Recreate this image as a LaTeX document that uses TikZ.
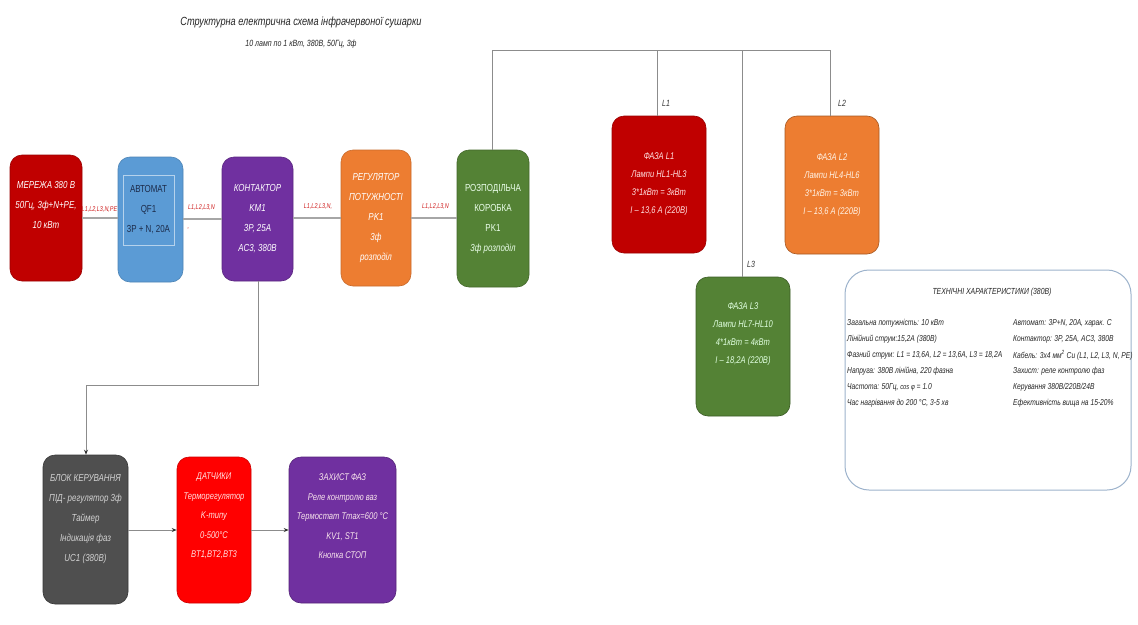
\documentclass[tikz,border=0pt]{standalone}
\usepackage{fontspec}
\setmainfont{Liberation Sans}[FakeStretch=0.78]
\usetikzlibrary{arrows.meta}
\definecolor{cred}{HTML}{C00000}
\definecolor{cblue}{HTML}{5B9BD5}
\definecolor{cpurple}{HTML}{7030A0}
\definecolor{corange}{HTML}{ED7D31}
\definecolor{cgreen}{HTML}{548235}
\definecolor{cgray}{HTML}{4F4F4F}
\definecolor{cbright}{HTML}{FF0000}
\definecolor{cline}{HTML}{A6A6A6}
\definecolor{ctree}{HTML}{8C8C8C}
\definecolor{clabel}{HTML}{D02020}
\definecolor{cframe}{HTML}{9DB3CC}
\definecolor{cnavy}{HTML}{1C2B4A}
\begin{document}
\begin{tikzpicture}[x=1pt,y=-1pt,
  box/.style={rounded corners=12pt, inner sep=0pt, align=center, line width=0.6pt, text=white},
  f20/.style={font=\fontsize{10.2}{20}\selectfont\itshape},
  f18/.style={font=\fontsize{9.7}{18}\selectfont\itshape},
  f19/.style={font=\fontsize{9.7}{19.5}\selectfont\itshape},
  wire/.style={draw=cline, line width=1.1pt},
  tree/.style={draw=ctree, line width=0.7pt},
  arr/.style={draw=ctree, line width=0.8pt, -{Stealth[length=5pt,width=4pt,black!80]}},
  lbl/.style={text=clabel, font=\fontsize{7}{8}\selectfont\itshape, inner sep=0pt, align=center},
  tech/.style={font=\fontsize{8.6}{10}\selectfont\itshape, text=black!85, inner sep=0pt, anchor=west}
]
\useasboundingbox[fill=white] (0,0) rectangle (1138,624);

% title
\node[font=\fontsize{11.8}{14}\selectfont\itshape, text=black!85] (title) at (301,22) {Структурна електрична схема інфрачервоної сушарки};
\node[font=\fontsize{9}{11}\selectfont\itshape, text=black!85] (subtitle) at (301,44) {10 ламп по 1 кВт, 380В, 50Гц, 3ф};

% main chain
\node[box, f20, fill=cred, draw=cred!80!black, minimum width=72pt, minimum height=126pt] (mer) at (46,218)
  {МЕРЕЖА 380 В\\50Гц, 3ф+N+PE,\\10 кВт\\[6pt]};
\node[box, fill=cblue, draw=cblue!85!black, minimum width=65pt, minimum height=125pt] (avt) at (150.5,219.5) {};
\node[draw=cblue!45!white, line width=0.8pt, fill=cblue, inner sep=0pt, minimum width=51pt, minimum height=70pt,
  align=center, text=cnavy, font=\fontsize{10.2}{20}\selectfont] (avtin) at (148.5,210) {АВТОМАТ\\QF1\\3P + N, 20А};
\node[box, f20, fill=cpurple, draw=cpurple!80!black, minimum width=71pt, minimum height=124pt] (kont) at (257.5,219)
  {КОНТАКТОР\\KM1\\3P, 25A\\AC3, 380В};
\node[box, f20, fill=corange, draw=corange!85!black, minimum width=70pt, minimum height=136pt] (reg) at (376,218)
  {РЕГУЛЯТОР\\ПОТУЖНОСТІ\\PK1\\3ф\\розподіл};
\node[box, fill=cgreen, draw=cgreen!80!black, minimum width=72pt, minimum height=137pt,
  font=\fontsize{10.2}{20}\selectfont, text=white!92!green] (roz) at (493,218.5)
  {РОЗПОДІЛЬЧА\\КОРОБКА\\PK1\\\textit{3ф розподіл}};

\draw[wire] (mer.east |- 0,218) -- (avt.west |- 0,218);
\draw[wire] (avt.east |- 0,219) -- (kont.west |- 0,219);
\draw[wire] (kont.east |- 0,218) -- (reg.west |- 0,218);
\draw[wire] (reg.east |- 0,218) -- (roz.west |- 0,218);
\node[lbl] (l1) at (99.5,210) {L1,L2,L3,N,PE};
\node[lbl] (l2) at (201.5,208) {L1,L2,L3,N};
\node[lbl] (l2b) at (188.5,229) {,};
\node[lbl] (l3) at (318,207) {L1,L2,L3,N,};
\node[lbl] (l4) at (435.5,207) {L1,L2,L3,N};

% phases
\node[box, f18, fill=cred, draw=cred!80!black, minimum width=94pt, minimum height=137pt, text=white!88!red] (fl1) at (659,184.5)
  {ФАЗА L1\\Лампи HL1-HL3\\3*1кВт = 3кВт\\I – 13,6 А (220В)};
\node[box, f18, fill=corange, draw=corange!70!black, minimum width=94pt, minimum height=138pt, text=white!90!orange] (fl2) at (832,185)
  {ФАЗА L2\\Лампи HL4-HL6\\3*1кВт = 3кВт\\I – 13,6 А (220В)};
\node[box, f18, fill=cgreen, draw=cgreen!70!black, minimum width=94pt, minimum height=139pt, text=white!88!green] (fl3) at (743,346.5)
  {ФАЗА L3\\Лампи HL7-HL10\\4*1кВт = 4кВт\\I – 18,2А (220В)\\[8pt]};

\coordinate (t0) at (492,50);
\coordinate (t1) at (657,50);
\coordinate (t3) at (742,50);
\coordinate (t2) at (830,50);
\draw[tree] (roz.north -| t0) -- (t0) -- (t2) -- (fl2.north -| t2);
\draw[tree] (t1) -- (fl1.north -| t1);
\draw[tree] (t3) -- (fl3.north -| t3);
\node[font=\fontsize{9}{10}\selectfont\itshape, text=black!80] (nl1) at (666,103) {L1};
\node[font=\fontsize{9}{10}\selectfont\itshape, text=black!80] (nl2) at (842,103) {L2};
\node[font=\fontsize{9}{10}\selectfont\itshape, text=black!80] (nl3) at (751,264) {L3};

% technical box
\node[draw=cframe, line width=1pt, rounded corners=24pt, minimum width=286pt, minimum height=220pt, inner sep=0pt] (tech) at (988,380) {};
\node[font=\fontsize{8.8}{10}\selectfont\itshape, text=black!85] (techt) at (992,292) {ТЕХНІЧНІ ХАРАКТЕРИСТИКИ (380В)};
\node[tech] (a1) at (847,323) {Загальна потужність: 10 кВт};
\node[tech] (a2) at (847,339) {Лінійний струм:15,2А (380В)};
\node[tech] (a3) at (847,355) {Фазний струм: L1 = 13,6А, L2 = 13,6А, L3 = 18,2А};
\node[tech] (a4) at (847,371) {Напруга: 380В лінійна, 220 фазна};
\node[tech] (a5) at (847,387) {Частота: 50Гц, {\fontsize{7.5}{9}\selectfont cos φ} = 1.0};
\node[tech] (a6) at (847,403) {Час нагрівання до 200 °С, 3-5 хв};
\node[tech] (b1) at (1013,323) {Автомат: 3P+N, 20А, харак. С};
\node[tech] (b2) at (1013,339) {Контактор: 3P, 25А, AC3, 380В};
\node[tech] (b3) at (1013,355) {Кабель: 3х4 мм\textsuperscript{2} Cu (L1, L2, L3, N, PE)};
\node[tech] (b4) at (1013,371) {Захист: реле контролю фаз};
\node[tech] (b5) at (1013,387) {Керування 380В/220В/24В};
\node[tech] (b6) at (1013,403) {Ефективність вища на 15-20\%};

% control chain
\node[box, f20, fill=cgray, draw=cgray!70!black, minimum width=85pt, minimum height=149pt, text=black!18] (blk) at (85.5,529.5)
  {БЛОК КЕРУВАННЯ\\ПІД- регулятор 3ф\\Таймер\\Індикація фаз\\UC1 (380В)\\[4pt]};
\node[box, f19, fill=cbright, draw=cbright!80!black, minimum width=74pt, minimum height=146pt, text=white!88!red] (dat) at (214,530)
  {ДАТЧИКИ\\Терморегулятор\\K-типу\\0-500°C\\BT1,BT2,BT3\\[10pt]};
\node[box, f19, fill=cpurple, draw=cpurple!75!black, minimum width=107pt, minimum height=146pt, text=white!90!purple] (zah) at (342.5,530)
  {ЗАХИСТ ФАЗ\\Реле контролю ваз\\Термостат Tmax=600 °C\\KV1, ST1\\Кнопка СТОП\\[8pt]};

\coordinate (k1) at (258,385);
\coordinate (k2) at (86,385);
\draw[tree] (kont.south -| k1) -- (k1) -- (k2);
\draw[arr] (k2) -- (blk.north -| k2);
\draw[arr] (blk.east |- 0,530) -- (dat.west |- 0,530);
\draw[arr] (dat.east |- 0,530) -- (zah.west |- 0,530);
\end{tikzpicture}
\end{document}
